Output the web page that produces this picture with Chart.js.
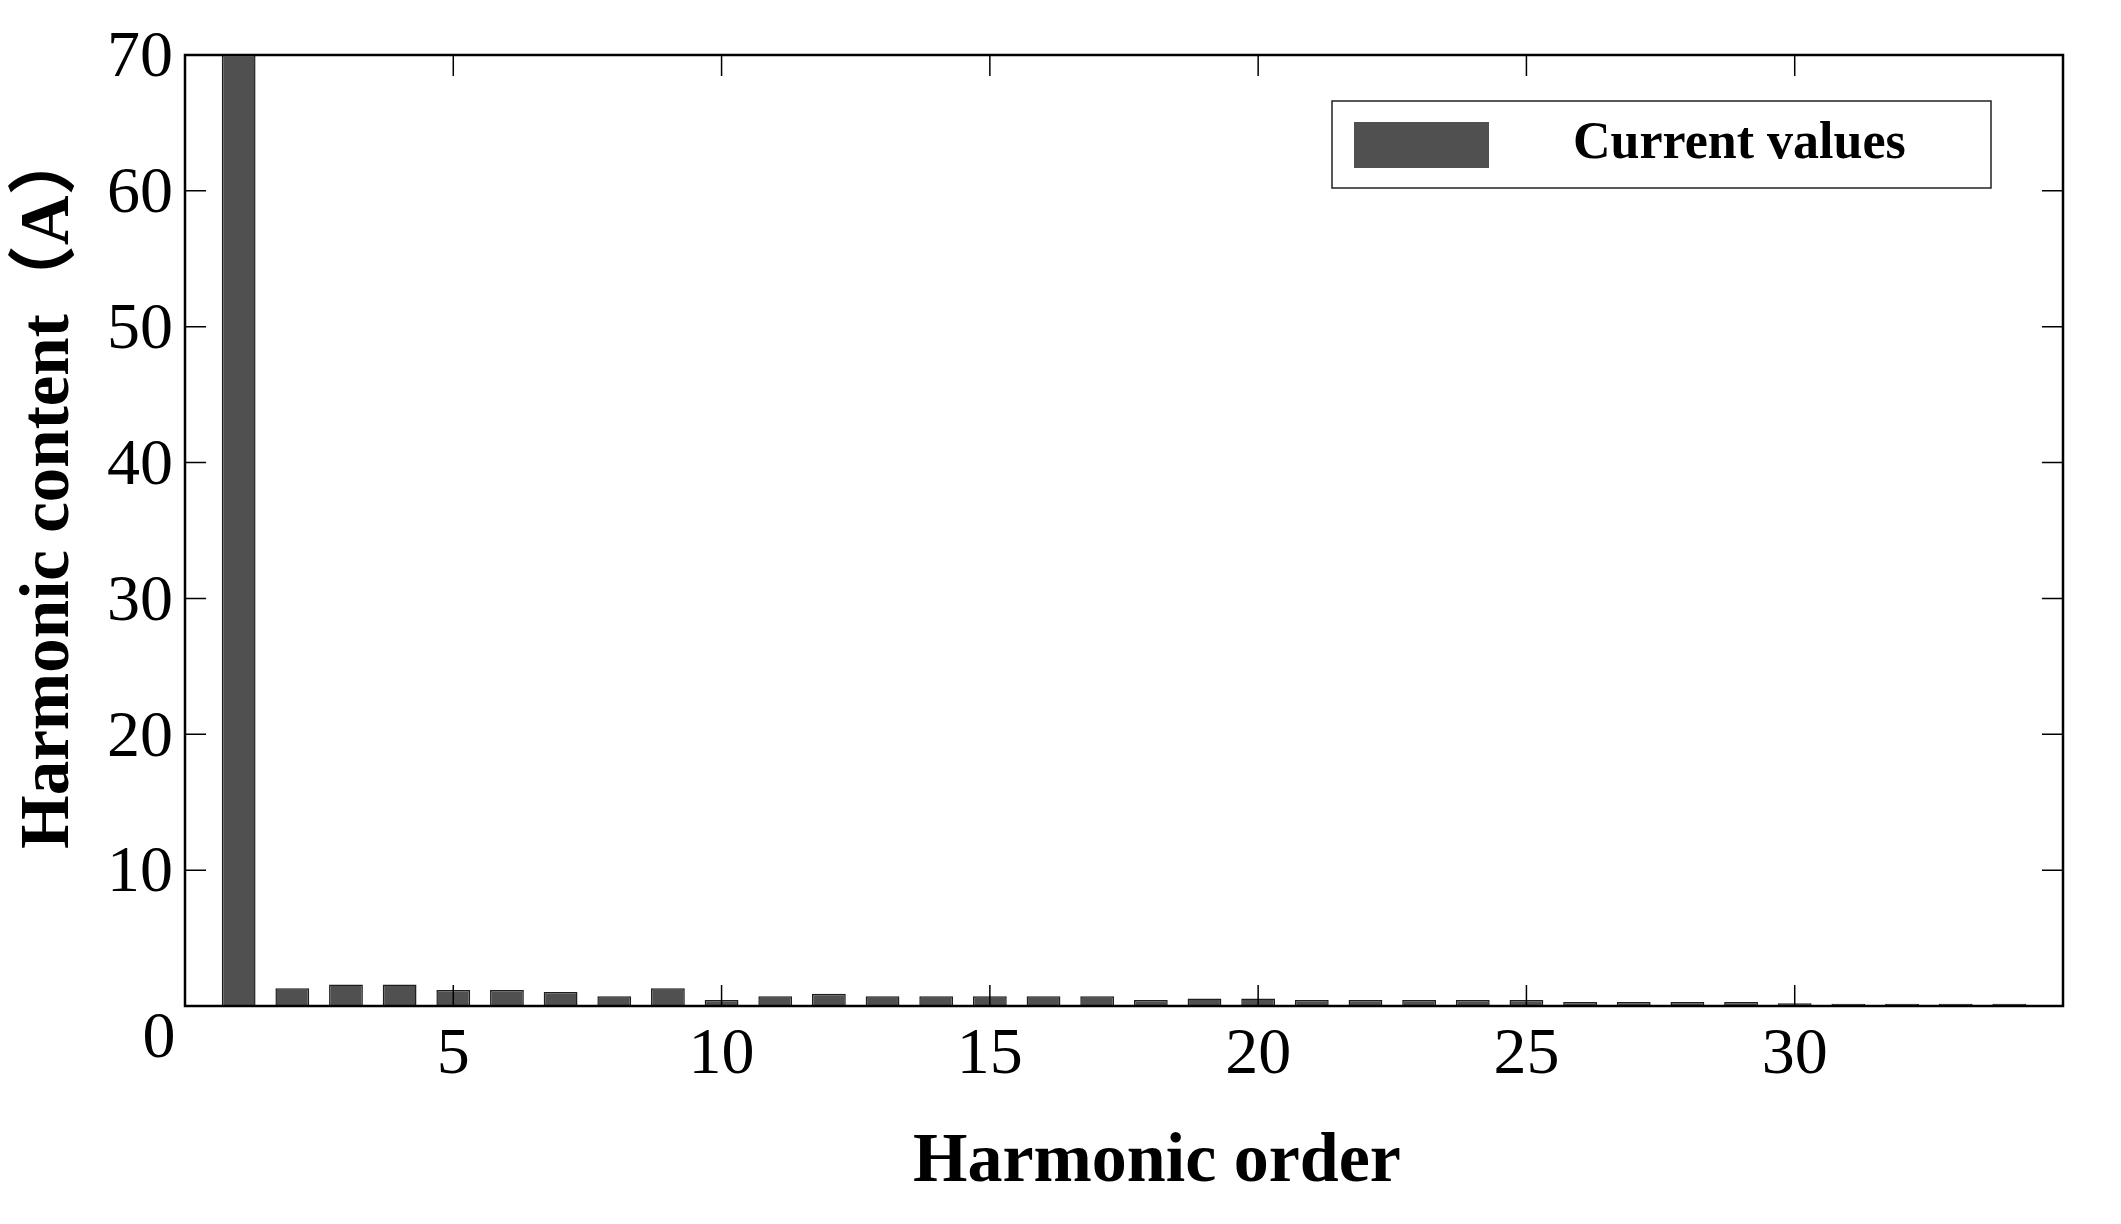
<!DOCTYPE html>
<html>
<head>
<meta charset="utf-8">
<script src="https://cdn.jsdelivr.net/npm/chart.js@4.4.1/dist/chart.umd.min.js"></script>
<style>
    html, body { margin: 0; padding: 0; background: #ffffff; }
    #wrap { width: 2121px; height: 1224px; }
</style>
</head>
<body>
<div id="wrap"><canvas id="harmonicChart" width="2121" height="1224"></canvas></div>
<script>
// Datos
const harmonicOrders = [1, 2, 3, 4, 5, 6, 7, 8, 9, 10, 11, 12, 13, 14, 15, 16, 17,
    18, 19, 20, 21, 22, 23, 24, 25, 26, 27, 28, 29, 30, 31, 32, 33, 34];
const currentValues = [70, 1.30, 1.59, 1.59, 1.18, 1.18, 1.03, 0.71, 1.30, 0.44, 0.71, 0.91,
    0.71, 0.71, 0.71, 0.71, 0.71, 0.44, 0.56, 0.56, 0.44, 0.44, 0.44, 0.44, 0.44,
    0.29, 0.29, 0.29, 0.29, 0.20, 0.17, 0.17, 0.17, 0.17];
const xTickValues = [0, 5, 10, 15, 20, 25, 30, 35];
const yTickValues = [0, 10, 20, 30, 40, 50, 60, 70];
const seriesLabel = 'Current values';
const xTitle = 'Harmonic order';
const yTitle = 'Harmonic content（A）';

const serif = "'Liberation Serif', 'Times New Roman', 'Noto Sans CJK SC', serif";
const barColor = '#505050';

// Marco, ticks hacia dentro, titulos, leyenda y el "0" del origen
const framePlugin = {
    id: 'frame',
    afterDraw(chart) {
        const { ctx, chartArea: a, scales } = chart;
        const xs = scales.x, ys = scales.y;
        const tickLen = 21;
        ctx.save();
        ctx.strokeStyle = '#000';
        ctx.lineWidth = 1.5;
        ctx.beginPath();
        xTickValues.slice(1, -1).forEach(v => {
            const px = xs.getPixelForValue(v);
            ctx.moveTo(px, a.bottom); ctx.lineTo(px, a.bottom - tickLen);
            ctx.moveTo(px, a.top); ctx.lineTo(px, a.top + tickLen);
        });
        yTickValues.slice(1, -1).forEach(v => {
            const py = ys.getPixelForValue(v);
            ctx.moveTo(a.left, py); ctx.lineTo(a.left + tickLen, py);
            ctx.moveTo(a.right, py); ctx.lineTo(a.right - tickLen, py);
        });
        ctx.stroke();

        ctx.lineWidth = 2.5;
        ctx.strokeRect(a.left, a.top, a.right - a.left, a.bottom - a.top);

        // origen
        ctx.fillStyle = '#000';
        ctx.font = '66px ' + serif;
        ctx.textAlign = 'center';
        ctx.textBaseline = 'middle';
        ctx.fillText('0', xs.getPixelForValue(0) - 26, ys.getPixelForValue(0) + 34);

        // titulos de ejes
        ctx.font = 'bold 70px ' + serif;
        ctx.textAlign = 'left';
        ctx.fillText(xTitle, a.left + 728, a.bottom + 157);
        ctx.save();
        ctx.translate(50, a.bottom - 157);
        ctx.rotate(-Math.PI / 2);
        ctx.font = 'bold 69px ' + serif;
        ctx.fillText(yTitle, 0, 0);
        ctx.restore();

        // leyenda
        const bw = 659, bh = 87;
        const bx = a.right - 72 - bw, by = a.top + 46;
        ctx.fillStyle = '#fff';
        ctx.fillRect(bx, by, bw, bh);
        ctx.lineWidth = 1.5;
        ctx.strokeStyle = '#222';
        ctx.strokeRect(bx, by, bw, bh);
        ctx.fillStyle = barColor;
        ctx.fillRect(bx + 22, by + 21, 135, 46);
        ctx.fillStyle = '#000';
        ctx.font = 'bold 52px ' + serif;
        ctx.textAlign = 'left';
        ctx.fillText(seriesLabel, bx + 241, by + bh / 2);
        ctx.restore();
    }
};

const ctx = document.getElementById('harmonicChart').getContext('2d');
const harmonicChart = new Chart(ctx, {
    type: 'bar',
    data: {
        datasets: [{
            label: seriesLabel,
            data: harmonicOrders.map((o, i) => ({ x: o, y: currentValues[i] })),
            backgroundColor: barColor,
            borderColor: '#1e1e1e',
            borderWidth: 1.5,
            categoryPercentage: 1,
            barPercentage: 0.63
        }]
    },
    options: {
        responsive: false,
        animation: false,
        layout: { padding: { left: 0, right: 58, top: 55, bottom: 0 } },
        plugins: {
            legend: { display: false },
            tooltip: { enabled: false }
        },
        scales: {
            x: {
                type: 'linear',
                min: 0,
                max: 35,
                offset: false,
                afterBuildTicks: s => { s.ticks = xTickValues.map(v => ({ value: v })); },
                afterFit: s => { s.height = 218; },
                grid: { display: false, drawTicks: false, offset: false },
                border: { display: false },
                ticks: {
                    color: '#000',
                    padding: 10,
                    maxRotation: 0,
                    font: { family: serif, size: 66 },
                    callback: v => (v === 0 || v === 35) ? '' : v
                }
            },
            y: {
                min: 0,
                max: 70,
                afterBuildTicks: s => { s.ticks = yTickValues.map(v => ({ value: v })); },
                afterFit: s => { s.width = 185; },
                grid: { display: false, drawTicks: false },
                border: { display: false },
                ticks: {
                    color: '#000',
                    padding: 12,
                    labelOffset: 4,
                    font: { family: serif, size: 66 },
                    callback: v => v === 0 ? '' : v
                }
            }
        }
    },
    plugins: [framePlugin]
});
</script>
</body>
</html>
